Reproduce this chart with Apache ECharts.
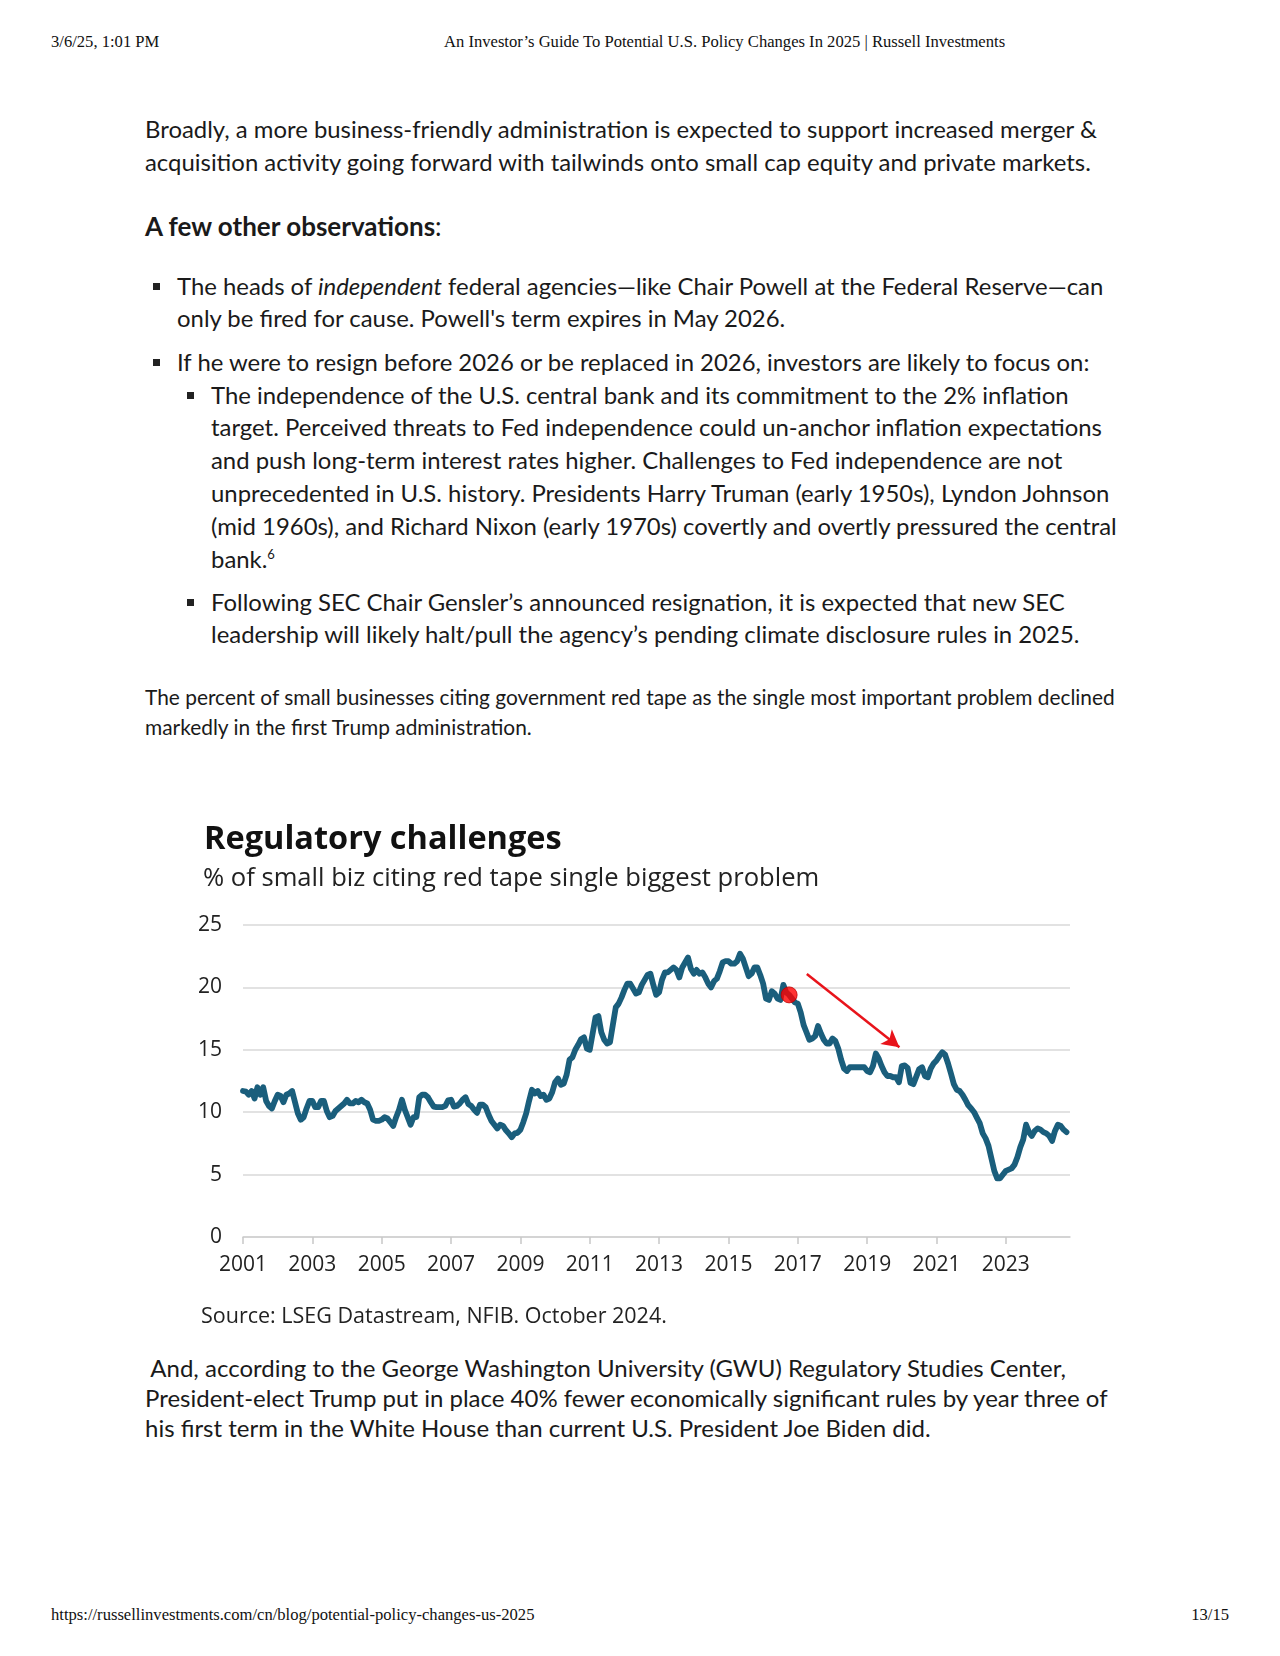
<!DOCTYPE html>
<html>
<head>
<meta charset="utf-8">
<script src="https://cdn.jsdelivr.net/npm/echarts@6/dist/echarts.min.js"></script>
<style>
  html, body { margin:0; padding:0; background:#fff; }
  body { width:1280px; height:1656px; position:relative; overflow:hidden; color:#1a1a1a; }
  .abs { position:absolute; white-space:nowrap; }
  .hdr { font-family:"Liberation Serif", serif; font-size:16.6px; line-height:18px; color:#111; }
  .txt { font-family:Lato, "Noto Sans", sans-serif; font-size:23.9px; line-height:32.8px; }
  .sq { position:absolute; width:7px; height:7px; background:#222; }
  #chart { position:absolute; left:0; top:780px; width:1280px; height:560px; }
</style>
</head>
<body>
<div class="abs hdr" style="left:51px; top:33px;">3/6/25, 1:01 PM</div>
<div class="abs hdr" style="left:444px; top:33px;">An Investor’s Guide To Potential U.S. Policy Changes In 2025 | Russell Investments</div>

<div class="abs txt" style="left:145px; top:113px; line-height:32.5px;">Broadly, a more business-friendly administration is expected to support increased merger &amp;<br>acquisition activity going forward with tailwinds onto small cap equity and private markets.</div>

<div class="abs txt" style="left:145px; top:209px; font-size:26px; line-height:34px;"><b>A few other observations</b>:</div>

<div class="sq" style="left:153px; top:283px;"></div>
<div class="abs txt" style="left:177px; top:269.6px;">The heads of <i>independent</i> federal agencies—like Chair Powell at the Federal Reserve—can<br>only be fired for cause. Powell's term expires in May 2026.</div>

<div class="sq" style="left:153px; top:359px;"></div>
<div class="abs txt" style="left:177px; top:345.6px;">If he were to resign before 2026 or be replaced in 2026, investors are likely to focus on:</div>

<div class="sq" style="left:187px; top:392px;"></div>
<div class="abs txt" style="left:211px; top:378.6px;">The independence of the U.S. central bank and its commitment to the 2% inflation<br>target. Perceived threats to Fed independence could un-anchor inflation expectations<br>and push long-term interest rates higher. Challenges to Fed independence are not<br>unprecedented in U.S. history. Presidents Harry Truman (early 1950s), Lyndon Johnson<br>(mid 1960s), and Richard Nixon (early 1970s) covertly and overtly pressured the central<br>bank.<sup style="font-size:13px; line-height:0;">6</sup></div>

<div class="sq" style="left:187px; top:599px;"></div>
<div class="abs txt" style="left:211px; top:585.6px;">Following SEC Chair Gensler’s announced resignation, it is expected that new SEC<br>leadership will likely halt/pull the agency’s pending climate disclosure rules in 2025.</div>

<div class="abs txt" style="left:145px; top:682px; font-size:20.9px; line-height:30px;">The percent of small businesses citing government red tape as the single most important problem declined<br>markedly in the first Trump administration.</div>

<div id="chart"></div>

<div class="abs txt" style="left:145px; top:1353px; font-size:24px; line-height:30px;">&nbsp;And, according to the George Washington University (GWU) Regulatory Studies Center,<br>President-elect Trump put in place 40% fewer economically significant rules by year three of<br>his first term in the White House than current U.S. President Joe Biden did.</div>

<div class="abs hdr" style="left:51px; top:1606px;">https://russellinvestments.com/cn/blog/potential-policy-changes-us-2025</div>
<div class="abs hdr" style="right:51px; top:1606px;">13/15</div>

<script>
// ---- data: monthly values, Jan 2001 - Oct 2024 (% citing red tape) ----
const y2001 = [11.7, 11.65, 11.4, 11.7, 11.1, 12.0, 11.4, 12.0, 10.9, 10.5, 10.3, 10.9];
const y2002 = [11.4, 11.3, 10.8, 11.4, 11.5, 11.7, 10.8, 9.9, 9.4, 9.6, 10.3, 10.9];
const y2003 = [10.9, 10.4, 10.4, 10.9, 10.9, 10.1, 9.6, 9.7, 10.1, 10.3, 10.5, 10.7];
const y2004 = [11.0, 10.7, 10.7, 10.9, 10.8, 11.0, 10.8, 10.7, 10.2, 9.4, 9.3, 9.3];
const y2005 = [9.4, 9.6, 9.5, 9.2, 8.9, 9.6, 10.2, 11.0, 10.2, 9.6, 9.0, 9.6];
const y2006 = [9.6, 11.2, 11.4, 11.4, 11.2, 10.8, 10.45, 10.4, 10.4, 10.4, 10.5, 10.95];
const y2007 = [11.0, 10.45, 10.5, 10.7, 11.0, 11.2, 10.65, 10.5, 10.2, 9.95, 10.6, 10.6];
const y2008 = [10.4, 9.8, 9.3, 9.0, 8.7, 9.0, 8.9, 8.55, 8.3, 8.0, 8.3, 8.35];
const y2009 = [8.6, 9.2, 9.9, 10.9, 11.8, 11.5, 11.7, 11.3, 11.4, 11.0, 11.1, 11.6];
const y2010 = [12.4, 12.7, 12.2, 12.3, 13.0, 14.2, 14.4, 15.0, 15.4, 15.85, 16.0, 15.1];
const y2011 = [15.0, 16.3, 17.6, 17.7, 16.4, 15.8, 15.5, 15.6, 17.0, 18.4, 18.7, 19.2];
const y2012 = [19.8, 20.3, 20.3, 19.9, 19.5, 19.6, 20.2, 20.6, 21.0, 21.1, 20.2, 19.4];
const y2013 = [19.6, 20.6, 21.2, 21.2, 21.4, 21.6, 21.4, 20.8, 21.6, 22.0, 22.4, 21.5];
const y2014 = [21.1, 21.4, 21.1, 21.2, 20.8, 20.3, 20.0, 20.5, 20.7, 21.3, 22.0, 22.1];
const y2015 = [22.1, 21.9, 21.9, 22.1, 22.7, 22.3, 21.6, 20.9, 21.1, 21.6, 21.6, 21.0];
const y2016 = [20.3, 19.1, 19.0, 19.7, 19.5, 19.1, 19.0, 20.2, 19.6, 19.4, 19.1, 18.8];
const y2017 = [18.7, 18.0, 17.0, 16.4, 15.8, 15.9, 16.1, 16.9, 16.3, 15.8, 15.5, 15.5];
const y2018 = [15.9, 15.7, 15.1, 14.2, 13.5, 13.3, 13.6, 13.6, 13.6, 13.6, 13.6, 13.6];
const y2019 = [13.3, 13.2, 13.7, 14.7, 14.3, 13.7, 13.2, 12.9, 12.9, 12.8, 12.8, 12.4];
const y2020 = [13.7, 13.75, 13.55, 12.35, 12.25, 12.85, 13.45, 13.6, 12.9, 12.8, 13.5, 13.9];
const y2021 = [14.15, 14.5, 14.8, 14.6, 13.9, 13.1, 12.25, 11.8, 11.7, 11.4, 11.0, 10.55];
const y2022 = [10.3, 10.0, 9.55, 9.1, 8.3, 7.9, 7.3, 6.3, 5.3, 4.7, 4.7, 5.0];
const y2023 = [5.3, 5.4, 5.5, 5.8, 6.4, 7.2, 7.8, 9.0, 8.4, 8.1, 8.5, 8.7];
const y2024 = [8.6, 8.4, 8.3, 8.1, 7.7, 8.5, 9.0, 8.9, 8.6, 8.4];

const years = [2001,2002,2003,2004,2005,2006,2007,2008,2009,2010,2011,2012,
               2013,2014,2015,2016,2017,2018,2019,2020,2021,2022,2023,2024];
const yearValues = [y2001,y2002,y2003,y2004,y2005,y2006,y2007,y2008,y2009,y2010,y2011,y2012,
                    y2013,y2014,y2015,y2016,y2017,y2018,y2019,y2020,y2021,y2022,y2023,y2024];

const xTickLabels = [2001,2003,2005,2007,2009,2011,2013,2015,2017,2019,2021,2023];
const yTickLabels = [0,5,10,15,20,25];

// highlighted point (Oct 2016) and arrow (start/end in axis units: year, %)
const dotYear = 2016, dotMonth = 10;
const arrowStart = [2017.26, 21.07];
const arrowEnd = [2019.93, 15.21];

const titleText = 'Regulatory challenges';
const subtitleText = '% of small biz citing red tape single biggest problem';
const sourceText = 'Source: LSEG Datastream, NFIB. October 2024.';

// ---- build series ----
const seriesData = [];
years.forEach((yr, i) => {
  yearValues[i].forEach((v, m) => seriesData.push([yr + m / 12, v]));
});
const dotX = dotYear + (dotMonth - 1) / 12;
const dotV = yearValues[years.indexOf(dotYear)][dotMonth - 1];

const chart = echarts.init(document.getElementById('chart'), null, {renderer: 'canvas'});
const labelFont = '"Open Sans", "Noto Sans", sans-serif';
chart.setOption({
  animation: false,
  graphic: [
    { type: 'text', x: 204, y: 60, style: { text: titleText, font: 'bold 32.5px ' + labelFont, fill: '#111', verticalAlign: 'middle', textVerticalAlign: 'middle' } },
    { type: 'text', x: 203, y: 99, style: { text: subtitleText, font: '25.6px ' + labelFont, fill: '#222', verticalAlign: 'middle', textVerticalAlign: 'middle' } },
    { type: 'text', x: 201, y: 537, style: { text: sourceText, font: '21.5px ' + labelFont, fill: '#222', verticalAlign: 'middle', textVerticalAlign: 'middle' } }
  ],
  grid: { left: 243, top: 145, width: 827, height: 312, containLabel: false },
  xAxis: {
    type: 'value', min: 2001, max: 2024.85,
    axisLine: { show: true, lineStyle: { color: '#d0d0d0', width: 1.5 } },
    axisTick: { show: true, length: 7, lineStyle: { color: '#c8c8c8', width: 1.5 }, customValues: xTickLabels },
    axisLabel: { customValues: xTickLabels, formatter: v => String(Math.round(v)), fontFamily: labelFont, fontSize: 21, color: '#222', margin: 18 },
    splitLine: { show: false }
  },
  yAxis: {
    type: 'value', min: 0, max: 25, interval: 5,
    axisLine: { show: false }, axisTick: { show: false },
    axisLabel: { customValues: yTickLabels, fontFamily: labelFont, fontSize: 21, color: '#222', margin: 21 },
    splitLine: { lineStyle: { color: '#d9d9d9', width: 1.5 } }
  },
  series: [
    {
      type: 'line', data: seriesData, showSymbol: false, symbol: 'none',
      lineStyle: { color: '#1a5e7c', width: 5.8, join: 'round', cap: 'round' },
      markLine: {
        silent: true, symbol: ['none', 'arrow'], symbolSize: [14, 17],
        label: { show: false },
        lineStyle: { color: '#e8141b', width: 2.5, type: 'solid' },
        data: [[{ coord: arrowStart }, { coord: arrowEnd }]]
      },
      z: 2
    },
    {
      type: 'scatter', data: [[dotX, dotV]], symbolSize: 16,
      itemStyle: { color: '#ff0000', borderColor: '#c00000', borderWidth: 1 }, z: 3
    }
  ]
});
</script>
</body>
</html>
